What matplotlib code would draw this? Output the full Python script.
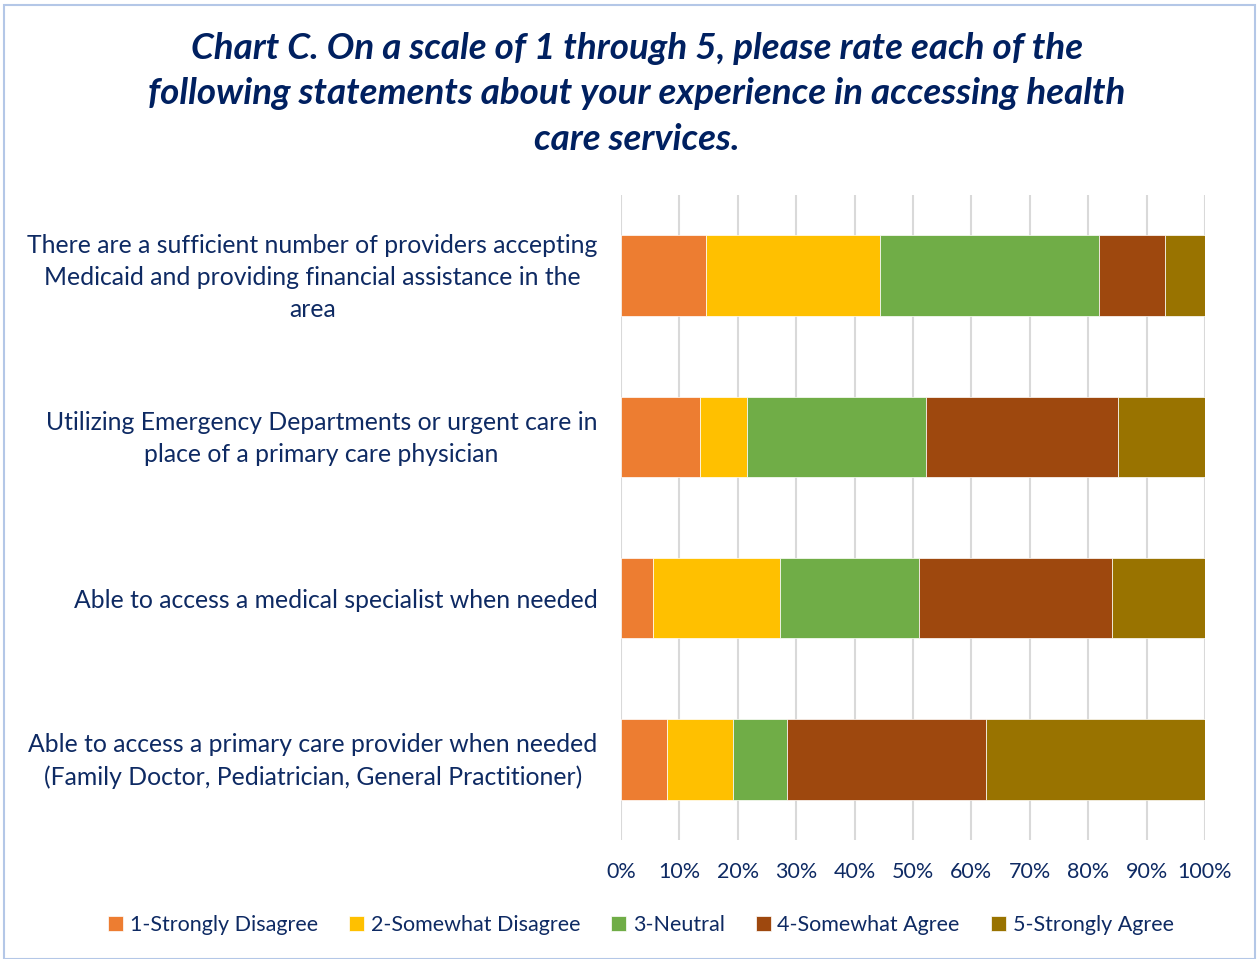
import matplotlib
matplotlib.use("Agg")
import matplotlib.pyplot as plt
import matplotlib.transforms as mtransforms
from matplotlib.patches import Rectangle
import numpy as np

plt.rcParams['font.family'] = ['Lato', 'DejaVu Sans']

categories = [
    "There are a sufficient number of providers accepting\nMedicaid and providing financial assistance in the\narea",
    "Utilizing Emergency Departments or urgent care in\nplace of a primary care physician",
    "Able to access a medical specialist when needed",
    "Able to access a primary care provider when needed\n(Family Doctor, Pediatrician, General Practitioner)",
]
series_names = ["1-Strongly Disagree", "2-Somewhat Disagree", "3-Neutral",
                "4-Somewhat Agree", "5-Strongly Agree"]
strongly_disagree = [14.6, 13.5, 5.5, 7.8]
somewhat_disagree = [29.7, 8.1, 21.7, 11.4]
neutral = [37.5, 30.6, 23.9, 9.2]
somewhat_agree = [11.3, 32.9, 32.9, 34.1]
strongly_agree = [6.9, 14.9, 16.0, 37.5]
xtick_labels = ["0%", "10%", "20%", "30%", "40%", "50%", "60%", "70%", "80%", "90%", "100%"]

colors = ["#ED7D31", "#FFC000", "#70AD47", "#9E480E", "#997300"]
navy = "#0E2A63"
title_color = "#002060"

fig = plt.figure(figsize=(12.59, 9.59), dpi=100)
ax = fig.add_axes([621/1259, 1-840/959, 584/1259, 645/959])

values = [strongly_disagree, somewhat_disagree, neutral, somewhat_agree, strongly_agree]
y = np.arange(len(categories))
left = np.zeros(len(categories))
for name, vals, c in zip(series_names, values, colors):
    vals = np.array(vals)
    ax.barh(y, vals, left=left, height=0.5, color=c, label=name,
            edgecolor="white", linewidth=0.5, zorder=3)
    left += vals

ax.set_xlim(0, 100)
ax.set_ylim(3.5, -0.5)
ax.set_xticks(np.arange(0, 101, 10))
ax.set_xticklabels(xtick_labels)
ax.set_yticks(y)
ax.set_yticklabels(categories, multialignment="center", linespacing=1.48)
ax.tick_params(axis="y", length=0, pad=17, labelsize=17.8, labelcolor=navy)
ax.tick_params(axis="x", length=0, pad=16, labelsize=15.5, labelcolor=navy)
shift = mtransforms.ScaledTranslation(0, 5/100, fig.dpi_scale_trans)
for lab in ax.get_yticklabels():
    if "\n" in lab.get_text():
        lab.set_transform(lab.get_transform() + shift)
for s in ax.spines.values():
    s.set_visible(False)
ax.grid(axis="x", color="#D9D9D9", linewidth=1.5, zorder=0)
ax.set_axisbelow(True)

fig.text(0.506, 1-94/959,
         "Chart C. On a scale of 1 through 5, please rate each of the\n"
         "following statements about your experience in accessing health\n"
         "care services.",
         ha="center", va="center", fontsize=26.5, fontweight="bold",
         fontstyle="italic", color=title_color, linespacing=1.45)

handles, labels = ax.get_legend_handles_labels()
leg = fig.legend(handles, labels, loc="center", bbox_to_anchor=(0.509, 1-925/959),
                 ncol=5, frameon=False, fontsize=15.5, handlelength=0.7,
                 handleheight=0.7, handletextpad=0.3, columnspacing=1.45)
for t in leg.get_texts():
    t.set_color(navy)

fig.patches.append(Rectangle((4/1259, 0), 1-8/1259, 1-5/959, transform=fig.transFigure,
                             fill=False, edgecolor="#B4C7E7", linewidth=1.5))

fig.savefig("out.png", dpi=100)
